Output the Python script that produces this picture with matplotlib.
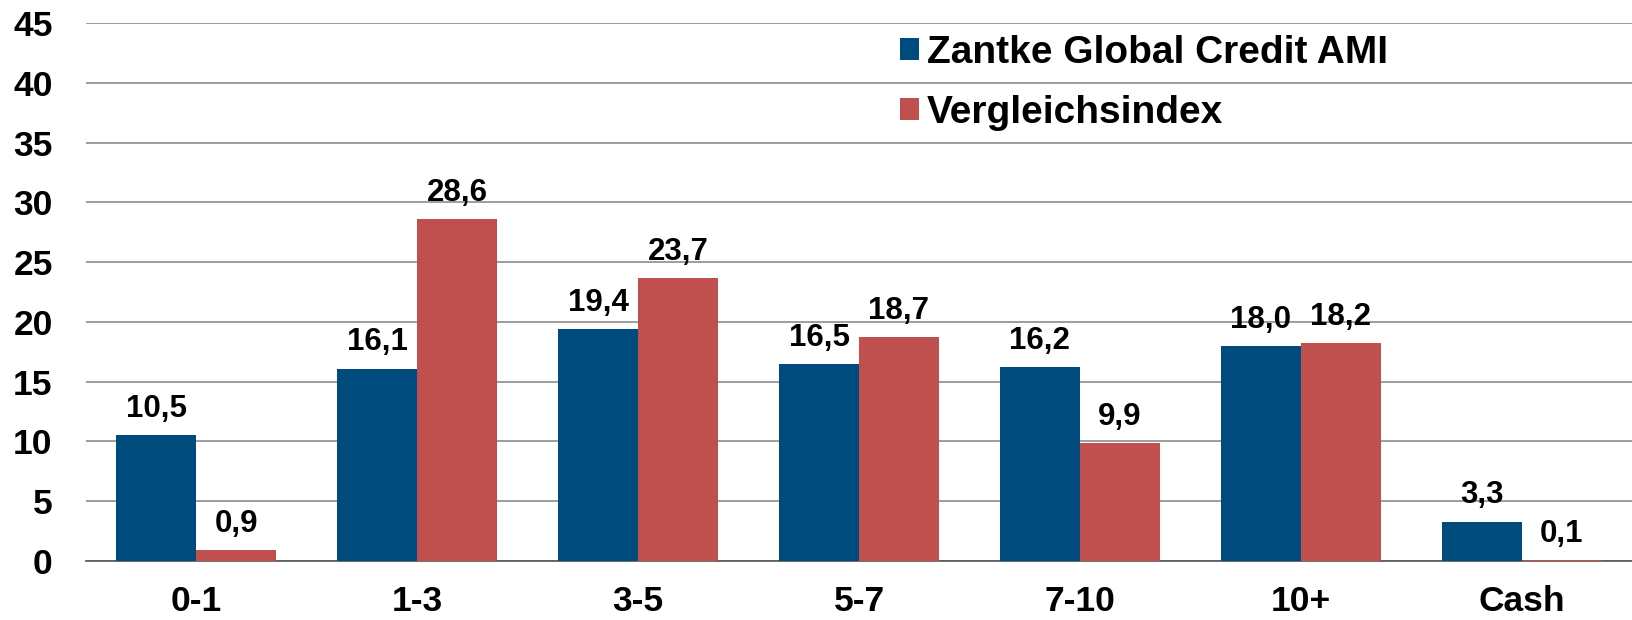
import matplotlib

matplotlib.use("Agg")

import matplotlib.pyplot as plt
import numpy as np
from matplotlib.patches import Patch

categories = ["0-1", "1-3", "3-5", "5-7", "7-10", "10+", "Cash"]
fund_values = [10.5, 16.1, 19.4, 16.5, 16.2, 18.0, 3.3]
index_values = [0.9, 28.6, 23.7, 18.7, 9.9, 18.2, 0.1]
series_names = ["Zantke Global Credit AMI", "Vergleichsindex"]
y_ticks = [0, 5, 10, 15, 20, 25, 30, 35, 40, 45]

BLUE = "#004B7D"
RED = "#C0504D"

plt.rcParams["font.family"] = ["Liberation Sans", "DejaVu Sans"]
plt.rcParams["font.weight"] = "bold"


def fmt(value: float) -> str:
    return f"{value:.1f}".replace(".", ",")


fig = plt.figure(figsize=(16.32, 6.2), dpi=100)
ax = fig.add_axes([86 / 1632, 1 - 561 / 620, 1 - 86 / 1632, (561 - 23) / 620])

x = np.arange(len(categories))
width = 0.362
fund_bars = ax.bar(x - width / 2, fund_values, width, color=BLUE, zorder=3)
index_bars = ax.bar(x + width / 2, index_values, width, color=RED, zorder=3)

for bars, values in ((fund_bars, fund_values), (index_bars, index_values)):
    for bar, value in zip(bars, values):
        ax.annotate(
            fmt(value),
            (bar.get_x() + bar.get_width() / 2, bar.get_height()),
            xytext=(0, 8),
            textcoords="offset points",
            ha="center",
            va="bottom",
            fontsize=22.5,
            fontweight="bold",
        )

ax.set_xlim(-0.5, len(categories) - 0.5)
ax.set_ylim(0, 45)
ax.set_yticks(y_ticks)
ax.set_yticklabels([str(t) for t in y_ticks], fontsize=25.5, fontweight="bold")
ax.set_xticks(x)
ax.set_xticklabels(categories, fontsize=25.5, fontweight="bold")
ax.tick_params(axis="y", length=0, pad=24)
ax.tick_params(axis="x", length=0, pad=17)
ax.yaxis.grid(True, color="#8c8c8c", linewidth=1.2, zorder=0)
for side in ("top", "right", "left"):
    ax.spines[side].set_visible(False)
ax.spines["bottom"].set_color("#555555")
ax.spines["bottom"].set_linewidth(1.2)

handles = [Patch(facecolor=BLUE), Patch(facecolor=RED)]
fig.legend(
    handles,
    series_names,
    loc="upper left",
    bbox_to_anchor=(900 / 1632, 1 - 35 / 620),
    frameon=False,
    handlelength=0.5,
    handleheight=0.5,
    handletextpad=0.2,
    labelspacing=0.62,
    borderpad=0,
    borderaxespad=0,
    prop={"weight": "bold", "size": 28},
)

fig.savefig("out.png", dpi=100)
